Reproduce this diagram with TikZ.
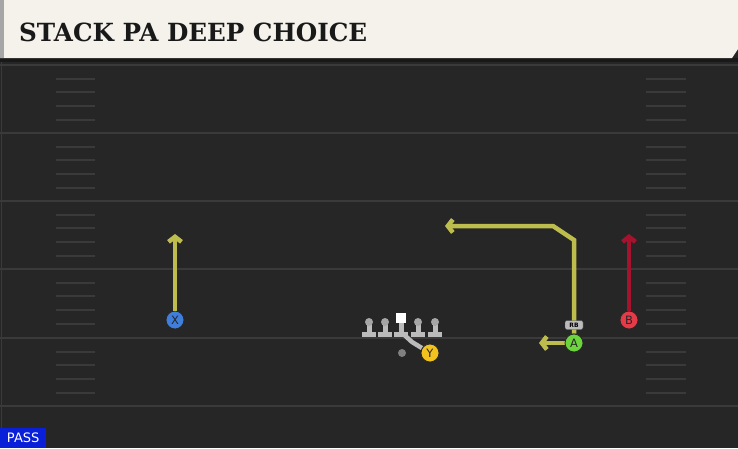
\documentclass[tikz,border=0pt]{standalone}
\usepackage{fontspec}
\setmainfont{DejaVu Sans}
\newfontfamily\playfont{DejaVu Serif}
\usetikzlibrary{arrows.meta}
\definecolor{field}{HTML}{262626}
\definecolor{fieldline}{HTML}{3A3A3A}
\definecolor{cream}{HTML}{F4F2EB}
\definecolor{olive}{HTML}{BDBD4E}
\definecolor{darkred}{HTML}{A5122D}
\definecolor{xblue}{HTML}{3F7FDB}
\definecolor{bred}{HTML}{E53B48}
\definecolor{agreen}{HTML}{6CD43C}
\definecolor{ygold}{HTML}{F2C21F}
\definecolor{passblue}{HTML}{0A1FD8}
\definecolor{olgray}{HTML}{BBBBBB}
\begin{document}
\begin{tikzpicture}[x=1pt,y=-1pt,
  player/.style={circle,draw=black!85,line width=0.8pt,minimum size=18pt,inner sep=0pt,text=black!85,font=\fontsize{11.5}{11.5}\selectfont},
  route/.style={line width=4.5pt,line join=miter,-{Straight Barb[length=5pt,width=13pt]}},
  tag/.style={fill=olgray,draw=black!70,rounded corners=2pt,inner sep=1pt,minimum width=18pt,minimum height=9pt,font=\fontsize{6}{6}\selectfont\bfseries}]
  \useasboundingbox (0,0) rectangle (738,448);
  \fill[field] (0,0) rectangle (738,448);
  \draw[fieldline,line width=1pt] (1.5,62) -- (1.5,448);

  % yard lines and hashes
  \foreach \y in {65,133,201,269,338,406}
    \draw[fieldline,line width=1.5pt] (0,\y) -- (738,\y);
  \foreach \y in {65,133,201,269,338}
    \foreach \d in {14,27,41,55}
      {\draw[fieldline,line width=1.2pt] (56,\y+\d) -- (95,\y+\d);
       \draw[fieldline,line width=1.2pt] (646,\y+\d) -- (686,\y+\d);}

  % title bar
  \fill[black!90] (0,58) rectangle (738,62);
  \fill[cream] (0,0) -- (738,0) -- (738,49) -- (732,58) -- (0,58) -- cycle;
  \fill[black!35] (0,0) rectangle (4,58);
  \node[anchor=west,font=\playfont\bfseries\fontsize{25}{25}\selectfont,text=black!90,inner sep=0pt,xscale=0.985] (title) at (19,32) {STACK PA DEEP CHOICE};

  % offensive line
  \foreach \x in {369,385,418,435}
    {\fill[olgray] (\x-7,332) rectangle (\x+7,337);
     \fill[olgray] (\x-2.5,322) rectangle (\x+2.5,333);
     \fill[black!35] (\x,322) circle (4pt);}
  \fill[olgray] (394,332) rectangle (408,337);
  \fill[olgray] (398.5,322) rectangle (403.5,333);
  \node[fill=white,minimum size=9.5pt,inner sep=0pt] (center) at (401,318) {};
  \node[circle,fill=black!50,minimum size=8pt,inner sep=0pt] (qb) at (402,353) {};

  % players
  \node[player,fill=xblue] (X) at (175,320) {X};
  \node[player,fill=bred] (B) at (629,320) {B};
  \node[player,fill=agreen] (A) at (574,343) {A};
  \node[player,fill=ygold] (Y) at (430,353) {Y};

  \coordinate (xend) at (175,234);
  \coordinate (bend) at (629,234);
  \coordinate (acut) at (574,240);
  \coordinate (atop) at (553,226);
  \coordinate (aend) at (445,226);
  \coordinate (afake) at (539,343);
  \coordinate (ybend) at (412,342);
  \coordinate (ystart) at (400,331);

  % routes
  \draw[route,olive] (X) -- (xend);
  \draw[route,darkred] (B) -- (bend);
  \draw[route,olive] (A) -- (acut) -- (atop) -- (aend);
  \draw[route,olive] (A.west) -- (afake);
  \draw[olgray,line width=4.5pt] (ystart) -- (ybend) -- (Y);
  \node[player,fill=agreen] at (A) {A};
  \node[player,fill=ygold] at (Y) {Y};
  \node[tag] (rb) at (574,325) {RB};

  % play type
  \node[fill=passblue,text=white,anchor=south west,minimum width=46pt,minimum height=20pt,inner sep=0pt,font=\fontsize{13}{13}\selectfont] (pass) at (0,448) {PASS};
\end{tikzpicture}
\end{document}
